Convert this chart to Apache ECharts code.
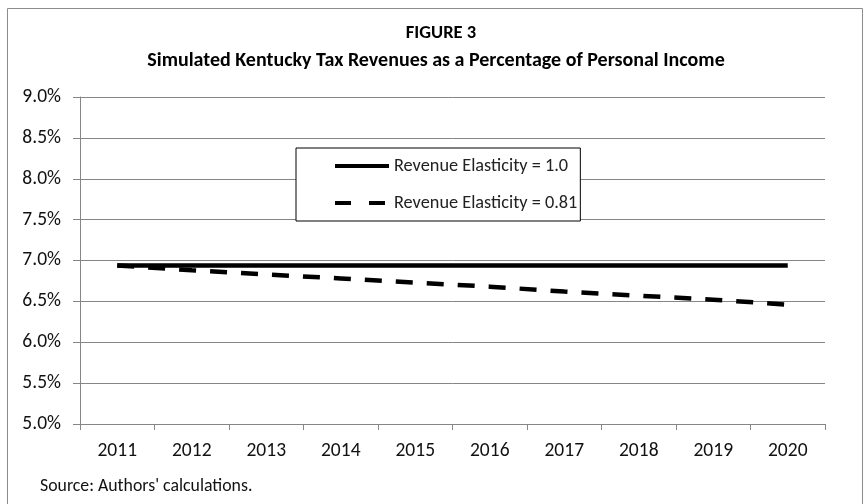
<!DOCTYPE html>
<html><head><meta charset="utf-8">
<script src="https://cdn.jsdelivr.net/npm/echarts@6/dist/echarts.min.js"></script>
<style>html,body{margin:0;padding:0;background:#fff}#c{width:866px;height:504px}</style>
</head><body><div id="c"></div>
<script>
var years = ['2011','2012','2013','2014','2015','2016','2017','2018','2019','2020'];
var elasticity10 = [6.94,6.94,6.94,6.94,6.94,6.94,6.94,6.94,6.94,6.94];
var elasticity081 = [6.94,6.88,6.83,6.78,6.73,6.68,6.62,6.57,6.52,6.46];
var seriesNames = ['Revenue Elasticity = 1.0','Revenue Elasticity = 0.81'];
var titleText = 'FIGURE 3';
var subtitleText = 'Simulated Kentucky Tax Revenues as a Percentage of Personal Income';
var sourceText = "Source: Authors' calculations.";

var FONT = 'Carlito, Lato, "Liberation Sans", sans-serif';
var chart = echarts.init(document.getElementById('c'));
chart.setOption({
  animation: false,
  backgroundColor: '#fff',
  textStyle: {fontFamily: FONT},
  title: [
    {text: titleText, left: 436, top: 19, textAlign: 'center',
     textStyle: {fontFamily: FONT, fontSize: 18.5, fontWeight: 'bold', color: '#000'}},
    {text: subtitleText, left: 431, top: 46, textAlign: 'center',
     textStyle: {fontFamily: FONT, fontSize: 20, fontWeight: 'bold', color: '#000'}},
    {text: sourceText, left: 35, top: 473,
     textStyle: {fontFamily: FONT, fontSize: 17.8, fontWeight: 'normal', color: '#111'}}
  ],
  graphic: [
    {type: 'rect', shape: {x: 7.5, y: 8.5, width: 855, height: 520}, silent: true,
     style: {fill: 'none', stroke: '#8c8c8c', lineWidth: 1}, z: -1}
  ],
  legend: {
    orient: 'vertical', left: 296, top: 148,
    padding: [9, 3, 9, 37], itemGap: 19,
    itemWidth: 54, itemHeight: 14,
    backgroundColor: '#fff', borderColor: '#000', borderWidth: 1,
    itemStyle: {opacity: 0},
    textStyle: {fontFamily: FONT, fontSize: 18.3, color: '#222'},
    data: [
      {name: seriesNames[0], lineStyle: {width: 4}},
      {name: seriesNames[1], lineStyle: {width: 4, type: [16, 18]}}
    ]
  },
  grid: {left: 80, right: 41, top: 97, bottom: 80},
  xAxis: {
    type: 'category', data: years, boundaryGap: true,
    axisLine: {lineStyle: {color: '#868686', width: 1}},
    axisTick: {show: true, length: 6, lineStyle: {color: '#868686'}},
    axisLabel: {fontFamily: FONT, fontSize: 19.5, color: '#111', margin: 17},
    splitLine: {show: false}
  },
  yAxis: {
    type: 'value', min: 5, max: 9, interval: 0.5,
    axisLine: {show: true, lineStyle: {color: '#868686', width: 1}},
    axisTick: {show: true, length: 7, lineStyle: {color: '#868686'}},
    axisLabel: {fontFamily: FONT, fontSize: 19.5, color: '#111', margin: 19,
      formatter: function (v) { return v.toFixed(1) + '%'; }},
    splitLine: {show: true, lineStyle: {color: '#868686', width: 1}}
  },
  series: [
    {name: seriesNames[0], type: 'line', data: elasticity10, symbol: 'none',
     lineStyle: {color: '#000', width: 4.5}, itemStyle: {color: '#000'}},
    {name: seriesNames[1], type: 'line', data: elasticity081, symbol: 'none',
     lineStyle: {color: '#000', width: 4.5, type: [17, 14]}, itemStyle: {color: '#000'}}
  ]
});
</script></body></html>
